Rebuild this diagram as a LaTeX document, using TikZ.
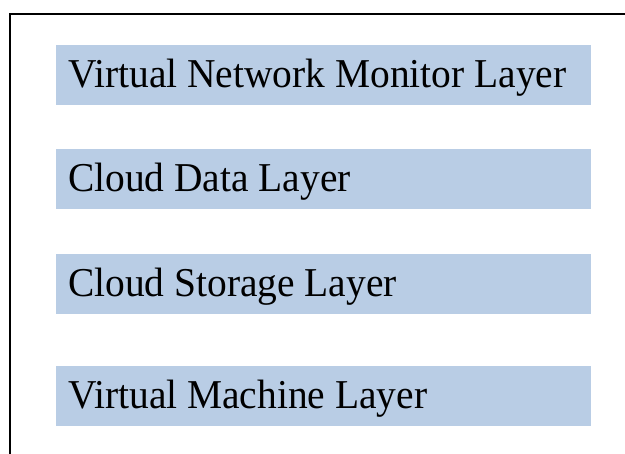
\documentclass[tikz,border=0pt]{standalone}
\usepackage{fontspec}
\setmainfont[FakeStretch=0.962]{Liberation Serif}
\definecolor{layerfill}{RGB}{185,205,229}
\begin{document}
\begin{tikzpicture}[x=1pt,y=-1pt,
  layer/.style={fill=layerfill,draw=none,minimum width=535pt,minimum height=60pt,
    inner sep=0pt,anchor=north west},
  layertext/.style={anchor=base west,inner sep=0pt,font=\fontsize{41}{43}\selectfont}]
\useasboundingbox (0,0) rectangle (625,454);
% outer frame (only top and left edges are visible)
\draw[line width=1.8pt] (10,500) -- (10,14) -- (700,14);
\node[layer] (vnm) at (56,45) {};
\node[layer] (cdl) at (56,149) {};
\node[layer] (csl) at (56,254) {};
\node[layer] (vml) at (56,366) {};
\foreach \b/\t in {vnm/Virtual Network Monitor Layer,cdl/Cloud Data Layer,
                   csl/Cloud Storage Layer,vml/Virtual Machine Layer}
  \node[layertext] (\b-text) at ([xshift=12pt,yshift=-43pt]\b.north west) {\t};
\end{tikzpicture}
\end{document}
